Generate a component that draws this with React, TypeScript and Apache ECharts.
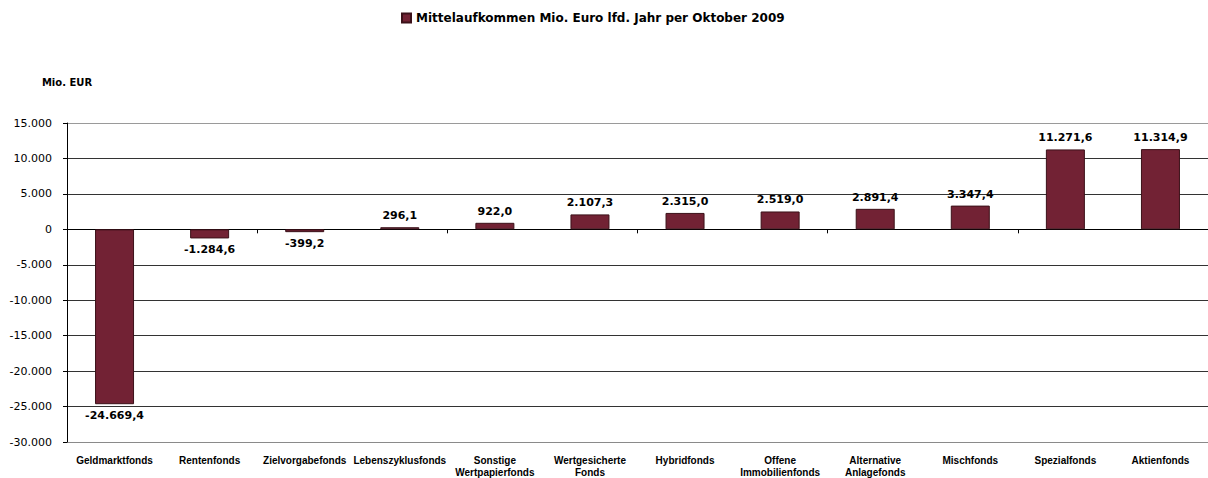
import React, { useEffect, useRef } from "react";
import * as echarts from "echarts";

const categories = [
  "Geldmarktfonds",
  "Rentenfonds",
  "Zielvorgabefonds",
  "Lebenszyklusfonds",
  "Sonstige\nWertpapierfonds",
  "Wertgesicherte\nFonds",
  "Hybridfonds",
  "Offene\nImmobilienfonds",
  "Alternative\nAnlagefonds",
  "Mischfonds",
  "Spezialfonds",
  "Aktienfonds",
];

const values = [
  -24669.4, -1284.6, -399.2, 296.1, 922.0, 2107.3, 2315.0, 2519.0, 2891.4, 3347.4, 11271.6, 11314.9,
];

const seriesName = "Mittelaufkommen Mio. Euro lfd. Jahr per Oktober 2009";
const yMin = -30000;
const yMax = 15000;
const yInterval = 5000;

function fmtDE(v: number, decimals: number): string {
  const neg = v < 0;
  const abs = Math.abs(v);
  const fixed = abs.toFixed(decimals);
  const [intPart, decPart] = fixed.split(".");
  const withDots = intPart.replace(/\B(?=(\d{3})+(?!\d))/g, ".");
  return (neg ? "-" : "") + withDots + (decPart ? "," + decPart : "");
}

export default function App() {
  const ref = useRef<HTMLDivElement>(null);
  useEffect(() => {
    if (!ref.current) return;
    const chart = echarts.init(ref.current, undefined, { renderer: "svg" });
    const barColor = "#722234";
    const gridColors = ["#8a8a8a", "#333", "#333", "#333", "#333", "#333", "#333", "#333", "#333", "#9a9a9a"];
    chart.setOption({
      animation: false,
      backgroundColor: "#ffffff",
      legend: {
        top: 7,
        left: 396,
        itemWidth: 9,
        itemHeight: 9,
        icon: "rect",
        textStyle: { fontFamily: "DejaVu Sans", fontWeight: "bold", fontSize: 12, color: "#000" },
        itemGap: 4,
        data: [seriesName],
      },
      grid: { left: 67, top: 123, width: 1151, bottom: 36, containLabel: false },
      xAxis: [
        {
          type: "category",
          data: categories,
          position: "bottom",
          axisLine: { show: false, onZero: false },
          axisTick: { show: false },
          axisLabel: {
            interval: 0,
            margin: 12,
            fontFamily: "Liberation Sans",
            fontWeight: "bold",
            fontSize: 10,
            lineHeight: 12,
            color: "#000",
          },
        },
        {
          type: "category",
          data: categories,
          position: "bottom",
          axisLine: { show: true, onZero: true, lineStyle: { color: "#000", width: 1 } },
          axisTick: { show: true, length: 4, lineStyle: { color: "#000" } },
          axisLabel: { show: false },
        },
      ],
      yAxis: {
        type: "value",
        min: yMin,
        max: yMax,
        interval: yInterval,
        name: "Mio. EUR",
        nameLocation: "end",
        nameGap: 36,
        nameTextStyle: {
          fontFamily: "DejaVu Sans",
          fontWeight: "bold",
          fontSize: 10,
          color: "#000",
          align: "center",
        },
        axisLine: { show: true, lineStyle: { color: "#000" } },
        axisTick: { show: true, length: 4, lineStyle: { color: "#000" } },
        axisLabel: {
          margin: 15,
          fontFamily: "DejaVu Sans",
          fontSize: 11,
          color: "#000",
          formatter: (v: number) => fmtDE(v, 0),
        },
        splitLine: { show: true, lineStyle: { color: gridColors, width: 1 } },
      },
      series: [
        {
          name: seriesName,
          type: "bar",
          xAxisIndex: 0,
          barWidth: 39,
          itemStyle: { color: barColor, borderColor: "#3b1119", borderWidth: 1 },
          data: values.map((v) => ({
            value: v,
            label: {
              show: true,
              position: v < 0 ? "bottom" : "top",
              distance: 6,
              fontFamily: "DejaVu Sans",
              fontWeight: "bold",
              fontSize: 11,
              color: "#000",
              formatter: () => fmtDE(v, 1),
            },
          })),
        },
      ],
    });
    return () => chart.dispose();
  }, []);
  return (
    <div
      ref={ref}
      style={{ position: "fixed", left: 0, top: 0, width: 1208, height: 478 }}
    />
  );
}
